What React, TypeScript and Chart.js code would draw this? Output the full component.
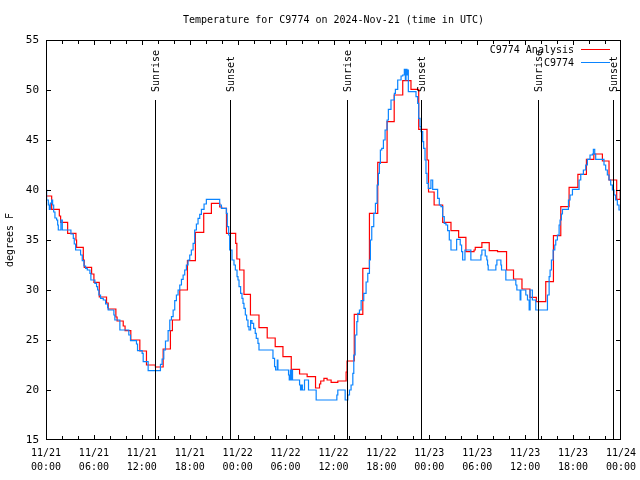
import React, { useEffect, useRef } from "react";
import { Chart, registerables } from "chart.js";

Chart.register(...registerables);

const TITLE = "Temperature for C9774 on 2024-Nov-21 (time in UTC)";
const Y_TITLE = "degrees F";
const SERIES_NAMES = ["C9774 Analysis", "C9774"];
const SERIES_COLORS = ["#ff0000", "#0a84ff"];

// hours since 11/21 00:00 UTC
const xTickLabels = [
  ["11/21", "00:00"], ["11/21", "06:00"], ["11/21", "12:00"], ["11/21", "18:00"],
  ["11/22", "00:00"], ["11/22", "06:00"], ["11/22", "12:00"], ["11/22", "18:00"],
  ["11/23", "00:00"], ["11/23", "06:00"], ["11/23", "12:00"], ["11/23", "18:00"],
  ["11/24", "00:00"],
];

const sunLabels = ["Sunrise", "Sunset", "Sunrise", "Sunset", "Sunrise", "Sunset"];
const sunHours = [13.65, 23.03, 37.66, 46.97, 61.63, 71.03];

const redHours = [
  0, 0.71, 1.67, 1.83, 2.71, 3.75, 3.83, 4.67, 4.79, 5.71, 6.0, 6.67, 7.58, 7.79, 8.75, 8.9,
  9.67, 9.9, 10.62, 11.75, 12.58, 13.7, 14.67, 15.58, 15.83, 16.75, 17.71, 18.71, 19.75,
  20.71, 21.75, 22.0, 22.6, 23.75, 23.9, 24.25, 24.79, 25.6, 26.67, 27.7, 28.7, 29.67,
  30.71, 31.75, 32.7, 33.75, 34.25, 34.4, 34.8, 35.2, 35.7, 36.54, 37.58, 37.7, 38.6, 39.67,
  40.5, 41.54, 42.71, 43.6, 44.67, 45.7, 46.67, 47.71, 47.9, 48.6, 49.67,
  50.71, 51.67, 52.58, 53.6, 53.75, 54.58, 55.5, 56.54, 57.67, 58.54, 59.6, 60.6, 61.4,
  62.58, 63.54, 64.46, 65.5, 66.6, 67.67, 68.6, 69.67, 70.5, 71.46, 71.9, 72,
];
const redTemps = [
  39.4, 38.07, 37.4, 36.77, 35.67, 35.0, 34.27, 33.0, 32.27, 31.6, 30.77, 29.3, 28.7, 28.1, 27.3, 26.9,
  26.4, 25.93, 25.0, 23.9, 22.5, 22.3, 24.1, 25.93, 27.0, 30.0, 32.93, 35.77, 37.67,
  38.67, 38.3, 38.17, 35.67, 34.67, 33.1, 32.0, 29.57, 27.5, 26.23, 25.2, 24.33, 23.33,
  22.07, 21.6, 21.33, 20.2, 20.6, 20.9, 21.17, 21.0, 20.77, 20.9, 21.8, 22.9, 27.57, 32.17,
  37.67, 42.77, 46.83, 49.5, 50.93, 50.07, 46.07, 43.0, 39.8, 38.5, 36.77,
  35.93, 35.27, 33.83, 34.0, 34.27, 34.73, 33.93, 33.83, 32.0, 31.1, 30.1, 29.27, 28.83,
  30.83, 35.43, 38.33, 40.27, 41.57, 43.07, 43.6, 42.9, 41.0, 39.07, 40.0, 40.0,
];

const blueHours = [
  0, 0.08, 0.29, 0.42, 0.54, 0.71, 0.83, 0.96, 1.12, 1.33, 1.46, 1.54, 1.87, 2.04, 3.12, 3.42,
  3.54, 3.71, 4.33, 4.54, 4.75, 4.96, 5.17, 5.5, 5.62, 6.12, 6.33, 6.46, 6.62, 6.83, 7.17, 7.46,
  7.71, 7.79, 8.5, 8.62, 9.25, 10.37, 10.58, 11.33, 11.46, 12.04, 12.17, 12.79, 14.33, 14.54,
  14.75, 14.96, 15.29, 15.5, 15.71, 15.92, 16.12, 16.33, 16.54, 16.75, 16.96, 17.17, 17.37,
  17.58, 17.79, 18.0, 18.2, 18.42, 18.62, 18.83, 19.04, 19.25, 19.46, 19.79, 20.08, 21.75,
  21.96, 22.58, 22.7, 22.87, 23.0, 23.29, 23.54, 23.71, 23.92, 24.04, 24.17, 24.37, 24.54,
  24.67, 24.79, 24.96, 25.12, 25.29, 25.42, 25.62, 25.79, 26.0, 26.2, 26.33, 26.54, 26.67,
  28.42, 28.62, 28.75, 28.96, 29.04, 30.37, 30.46, 30.6, 30.75, 30.8, 30.87, 31.75, 31.87,
  32.0, 32.1, 32.37, 32.87, 33.83, 36.42, 36.54, 37.46, 37.79, 38.0, 38.2, 38.42, 38.54,
  38.71, 38.92, 39.04, 39.25, 39.46, 39.79, 40.08, 40.29, 40.5, 40.62, 40.79, 41.04, 41.25,
  41.46, 41.62, 41.75, 41.87, 42.04, 42.25, 42.46, 42.71, 42.87, 43.2, 43.62, 43.75, 44.04,
  44.46, 44.67, 44.87, 45.0, 45.08, 45.2, 45.25, 45.37, 46.33, 46.54, 46.67, 46.83, 46.96,
  47.17, 47.29, 47.46, 47.58, 47.71, 47.87, 48.2, 48.42, 49.04, 49.25, 49.46, 49.67, 49.87,
  50.08, 50.29, 50.5, 50.71, 51.42, 51.87, 52.04, 52.17, 52.46, 53.2, 54.46, 54.58, 55.0,
  55.2, 55.29, 55.37, 56.33, 56.46, 56.96, 57.04, 57.58, 58.83, 58.96, 59.37, 59.46, 60.08,
  60.29, 60.5, 60.62, 60.9, 61.0, 61.33, 62.79, 63.0, 63.12, 63.29, 63.5, 63.71, 63.83, 64.04,
  64.25, 64.37, 64.54, 64.67, 65.42, 65.62, 65.92, 66.75, 66.96, 67.29, 67.58, 67.79, 68.12,
  68.42, 68.54, 68.71, 68.83, 69.87, 70.08, 70.29, 70.5, 70.71, 70.92, 71.12, 71.33, 71.54,
  71.75, 72,
];
const blueTemps = [
  40.0, 39.0, 38.5, 38.07, 38.7, 39.0, 38.5, 37.8, 37.2, 37.0, 36.5, 36.0, 37.0, 36.0, 35.6, 35.17,
  34.6, 34.0, 33.5, 32.93, 32.4, 32.17, 32.0, 31.67, 31.0, 30.67, 30.33, 30.0, 29.5, 29.17, 29.0, 28.6,
  28.27, 28.0, 27.5, 27.0, 26.0, 25.5, 24.93, 24.6, 23.93, 23.67, 22.83, 21.93, 22.57, 23.1,
  24.0, 24.9, 25.93, 27.0, 27.33, 28.0, 28.93, 29.5, 30.0, 30.5, 31.07, 31.5, 32.0,
  32.5, 33.0, 33.5, 34.0, 34.67, 36.0, 36.6, 37.17, 37.57, 38.07, 38.6, 39.07, 38.5,
  38.17, 37.67, 36.33, 35.5, 34.0, 33.0, 32.5, 32.0, 31.33, 31.0, 30.33, 29.67, 29.17,
  28.67, 28.17, 27.5, 27.0, 26.33, 26.0, 26.93, 26.67, 26.17, 25.67, 25.17, 24.67, 24.0,
  23.17, 22.33, 22.0, 23.0, 22.0, 21.5, 21.0, 22.0, 21.0, 22.0, 21.0, 20.5, 20.0,
  20.5, 20.0, 21.0, 20.0, 19.0, 19.5, 20.0, 19.0, 19.5, 20.0, 20.5, 21.67, 23.5,
  25.5, 26.83, 27.67, 28.0, 28.93, 29.67, 30.8, 31.67, 33.0, 35.0, 36.33, 37.67, 38.67,
  40.5, 41.67, 42.67, 44.0, 44.17, 45.0, 46.0, 47.0, 48.07, 49.0, 49.67, 50.07, 51.0,
  51.4, 51.5, 52.07, 51.0, 52.07, 51.5, 52.0, 49.83, 49.33, 48.67, 47.17, 46.33, 45.83,
  44.83, 44.17, 43.0, 41.67, 40.67, 40.17, 41.0, 40.07, 39.17, 38.5, 38.33, 37.33, 36.67,
  36.5, 35.93, 35.0, 34.0, 35.07, 34.5, 33.83, 33.0, 34.0, 33.0, 33.5, 34.0, 33.4,
  33.0, 32.5, 32.0, 32.5, 33.0, 32.5, 32.0, 31.0, 30.5, 30.0, 29.0, 30.0, 29.5,
  29.0, 28.0, 30.0, 29.0, 29.0, 28.0, 29.5, 31.33, 32.0, 33.0, 34.0, 34.5, 35.0, 35.5,
  36.5, 37.0, 37.6, 38.07, 39.0, 39.5, 40.07, 41.0, 41.57, 42.0, 42.5, 43.07, 43.5,
  43.6, 44.07, 43.6, 43.07, 42.5, 42.0, 41.5, 41.0, 40.5, 40.0, 39.5, 39.0, 38.5,
  38.0, 38.0,
];

const FONT = "'DejaVu Sans Mono', 'Liberation Mono', monospace";

const gnuplotDecor = {
  id: "gnuplotDecor",
  afterDatasetsDraw(chart: any) {
    const { ctx, chartArea } = chart;
    const { left, right, top, bottom } = chartArea;
    const xs = chart.scales.x;
    const ys = chart.scales.y;
    ctx.save();
    ctx.strokeStyle = "#000";
    ctx.lineWidth = 1;
    ctx.fillStyle = "#000";
    // title, centred over the plot area
    ctx.font = "10px " + FONT;
    ctx.textAlign = "center";
    ctx.textBaseline = "middle";
    ctx.fillText(TITLE, (left + right) / 2, 20);
    // sunrise / sunset markers
    sunHours.forEach((h, i) => {
      const x = Math.round(xs.getPixelForValue(h)) + 0.5;
      const yTop = top + (bottom - top) * 0.15;
      ctx.beginPath();
      ctx.moveTo(x, bottom);
      ctx.lineTo(x, yTop);
      ctx.stroke();
      ctx.save();
      ctx.translate(x + 1, top + (bottom - top) * 0.13);
      ctx.rotate(-Math.PI / 2);
      ctx.textAlign = "left";
      ctx.textBaseline = "middle";
      ctx.fillText(sunLabels[i], 0, 0);
      ctx.restore();
    });
    // border box
    ctx.strokeRect(Math.round(left) + 0.5, Math.round(top) + 0.5, Math.round(right - left) - 1, Math.round(bottom - top) - 1);
    // x ticks (every 2 h), top & bottom
    for (let h = 2; h < 72; h += 2) {
      const x = Math.round(xs.getPixelForValue(h)) + 0.5;
      const len = h % 6 === 0 ? 5 : 4;
      ctx.beginPath();
      ctx.moveTo(x, bottom);
      ctx.lineTo(x, bottom - len);
      ctx.moveTo(x, top);
      ctx.lineTo(x, top + len);
      ctx.stroke();
    }
    // y ticks, left & right
    for (let v = 20; v < 55; v += 5) {
      const y = Math.round(ys.getPixelForValue(v)) + 0.5;
      ctx.beginPath();
      ctx.moveTo(left, y);
      ctx.lineTo(left + 5, y);
      ctx.moveTo(right, y);
      ctx.lineTo(right - 5, y);
      ctx.stroke();
    }
    // legend
    ctx.textAlign = "right";
    ctx.textBaseline = "middle";
    SERIES_NAMES.forEach((name, i) => {
      const y = top + 10 + i * 13;
      ctx.fillStyle = "#000";
      ctx.fillText(name, 574, y);
      ctx.strokeStyle = SERIES_COLORS[i];
      ctx.beginPath();
      ctx.moveTo(581, Math.round(y) - 0.5);
      ctx.lineTo(610, Math.round(y) - 0.5);
      ctx.stroke();
    });
    ctx.restore();
  },
};

export default function App() {
  const ref = useRef<HTMLCanvasElement | null>(null);
  useEffect(() => {
    document.body.style.margin = "0";
    const canvas = ref.current;
    if (!canvas) return;
    const redData = redHours.map((h, i) => ({ x: h, y: redTemps[i] }));
    const blueData = blueHours.map((h, i) => ({ x: h, y: blueTemps[i] }));
    const chart = new Chart(canvas, {
      type: "line",
      data: {
        datasets: [
          {
            label: SERIES_NAMES[0],
            data: redData,
            borderColor: SERIES_COLORS[0],
            borderWidth: 1.2,
            pointRadius: 0,
            stepped: "before",
            order: 1,
          },
          {
            label: SERIES_NAMES[1],
            data: blueData,
            borderColor: SERIES_COLORS[1],
            borderWidth: 1.2,
            pointRadius: 0,
            stepped: "before",
            order: 0,
          },
        ],
      },
      options: {
        responsive: false,
        animation: false,
        devicePixelRatio: 1,
        layout: { padding: { left: 0, right: 19, top: 40, bottom: 0 }, autoPadding: false },
        plugins: {
          legend: { display: false },
          tooltip: { enabled: false },
          title: { display: false },
        },
        scales: {
          x: {
            type: "linear",
            min: 0,
            max: 72,
            afterFit: (s: any) => {
              s.height = 40;
              s.paddingLeft = 0;
              s.paddingRight = 0;
            },
            grid: { display: false, drawTicks: false },
            border: { display: false },
            ticks: {
              stepSize: 6,
              autoSkip: false,
              maxRotation: 0,
              padding: 6,
              color: "#000",
              font: { family: FONT, size: 10, lineHeight: 1.4 },
              callback: (v: any) => xTickLabels[Math.round(Number(v) / 6)] || "",
            },
          },
          y: {
            min: 15,
            max: 55,
            afterFit: (s: any) => { s.width = 46; },
            grid: { display: false, drawTicks: false },
            border: { display: false },
            title: {
              display: true,
              text: Y_TITLE,
              color: "#000",
              font: { family: FONT, size: 10, lineHeight: 1.2 },
              padding: { top: 4, bottom: 0 },
            },
            ticks: {
              stepSize: 5,
              padding: 7,
              color: "#000",
              font: { family: FONT, size: 11 },
            },
          },
        },
      },
      plugins: [gnuplotDecor],
    });
    return () => chart.destroy();
  }, []);
  return (
    <div style={{ width: 640, height: 480 }}>
      <canvas ref={ref} width={640} height={480} style={{ display: "block" }} />
    </div>
  );
}
